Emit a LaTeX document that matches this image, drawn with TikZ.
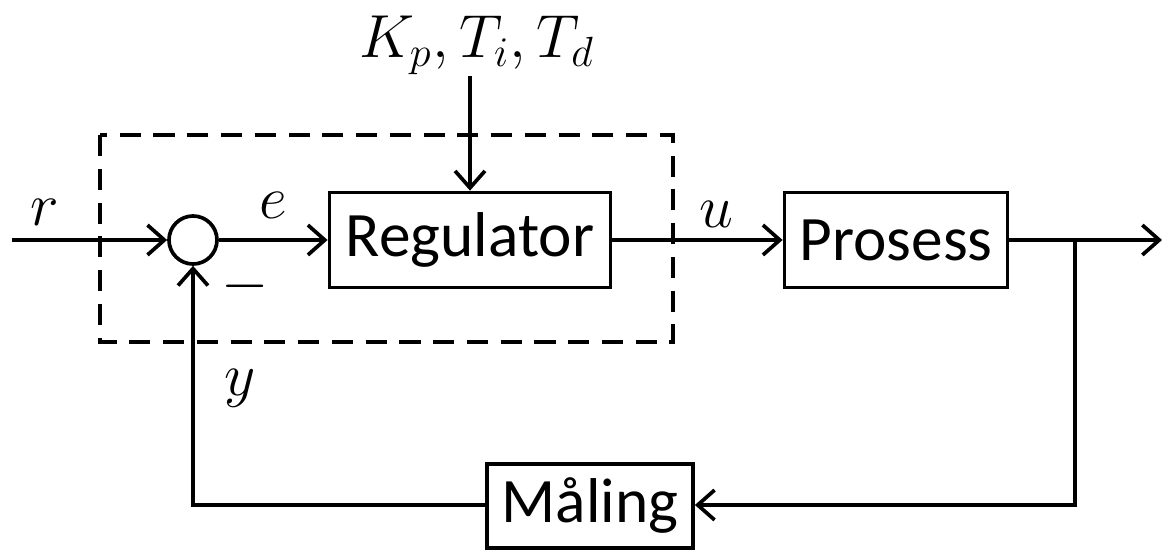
\documentclass[tikz,border=0pt]{standalone}
\usepackage{fontspec}
\setsansfont{Carlito}
\usetikzlibrary{arrows.meta,calc}
\begin{document}
\begin{tikzpicture}[x=0.01cm,y=-0.01cm,
  line width=1.05pt,
  arr/.style={-{Straight Barb[length=4.8pt,width=8.5pt,line width=1.05pt]}},
  blk/.style={draw,rectangle,inner sep=0pt,font=\sffamily\fontsize{18}{21}\selectfont},
  lbl/.style={inner sep=0pt,font=\fontsize{18}{21}\selectfont},
  sumc/.style={draw,circle,minimum size=0.48cm,inner sep=0pt},
  dbox/.style={draw,dash pattern=on 6pt off 3.6pt,line width=0.95pt}
]
\useasboundingbox (0,0) rectangle (1164,552);
% dashed box
\draw[dbox] (100,135) rectangle (673,342);
% blocks
\node[sumc] (sum) at (193,240) {};
\node[blk,minimum width=2.81cm,minimum height=0.95cm] (reg) at (470,240) {Regulator};
\node[blk,minimum width=2.23cm,minimum height=0.95cm] (pro) at (896,240) {Prosess};
\node[blk,minimum width=2.06cm,minimum height=0.84cm] (mal) at (590,506) {Måling};
% coordinates
\coordinate (in) at (12,240);
\coordinate (out) at (1162,240);
\coordinate (br) at (1075,240);
\coordinate (brd) at (1075,505);
\coordinate (fbl) at (193,505);
\node[lbl,font=\fontsize{16.5}{20}\selectfont] (kp) at (477,45) {$K_p, T_i, T_d$};
\coordinate (kpa) at (470,76);
% connectors
\draw[arr] (in) -- (sum.west);
\draw[arr] (sum.east) -- (reg.west);
\draw[arr] (reg.east) -- (pro.west);
\draw[arr] (pro.east) -- (out);
\draw[arr] (br) -- (brd) -- (mal.east |- brd);
\draw[arr] (mal.west |- fbl) -- (fbl) -- (sum.south);
\draw[arr] (kpa) -- (reg.north);
% labels
\node[lbl] (r) at (45,212) {$r$};
\node[lbl] (e) at (273,205) {$e$};
\node[lbl] (u) at (716,214) {$u$};
\node[lbl] (y) at (240,388) {$y$};
\node[lbl] (m) at (245,286) {$-$};
\end{tikzpicture}
\end{document}
